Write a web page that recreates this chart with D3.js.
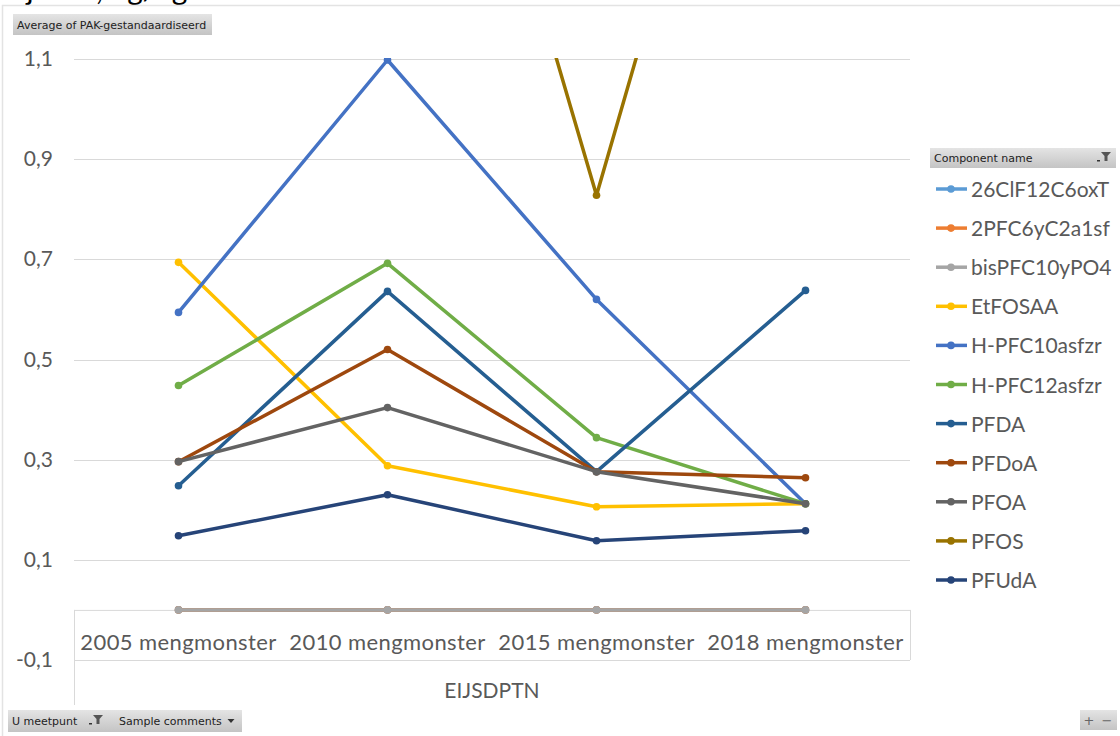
<!DOCTYPE html>
<html>
<head>
<meta charset="utf-8">
<script src="https://cdn.jsdelivr.net/npm/d3@7"></script>
<style>
  body { margin: 0; background: #fff; }
  svg { display: block; }
</style>
</head>
<body>
<div id="chart"></div>
<script>
// categories (x axis)
var categories = ["2005 mengmonster", "2010 mengmonster", "2015 mengmonster", "2018 mengmonster"];
var groupLabel = "EIJSDPTN";

// series, in legend order
var seriesNames = ["26ClF12C6oxT", "2PFC6yC2a1sf", "bisPFC10yPO4", "EtFOSAA", "H-PFC10asfzr",
  "H-PFC12asfzr", "PFDA", "PFDoA", "PFOA", "PFOS", "PFUdA"];
var seriesColors = ["#5B9BD5", "#ED7D31", "#A5A5A5", "#FFC000", "#4472C4",
  "#70AD47", "#255E91", "#9E480E", "#636363", "#997300", "#264478"];

var v26ClF12C6oxT = [0, 0, 0, 0];
var v2PFC6yC2a1sf = [0, 0, 0, 0];
var vbisPFC10yPO4 = [0, 0, 0, 0];
var vEtFOSAA      = [0.694, 0.288, 0.206, 0.212];
var vHPFC10asfzr  = [0.594, 1.098, 0.620, 0.212];
var vHPFC12asfzr  = [0.448, 0.692, 0.344, 0.212];
var vPFDA         = [0.248, 0.636, 0.276, 0.638];
var vPFDoA        = [0.296, 0.520, 0.276, 0.264];
var vPFOA         = [0.296, 0.404, 0.276, 0.212];
var vPFOS         = [1.95, 2.25, 0.828, 2.27];   // 2005/2010/2018 lie above the visible range
var vPFUdA        = [0.148, 0.230, 0.138, 0.158];

var seriesValues = [v26ClF12C6oxT, v2PFC6yC2a1sf, vbisPFC10yPO4, vEtFOSAA, vHPFC10asfzr,
  vHPFC12asfzr, vPFDA, vPFDoA, vPFOA, vPFOS, vPFUdA];

var yTicks = [1.1, 0.9, 0.7, 0.5, 0.3, 0.1, -0.1];

var width = 1120, height = 736;
var font = "Lato, 'Open Sans', sans-serif";
var uiFont = "'DejaVu Sans', Tahoma, sans-serif";

var svg = d3.select("#chart").append("svg")
  .attr("width", width)
  .attr("height", height);

var defs = svg.append("defs");
var grad = defs.append("linearGradient")
  .attr("id", "btn").attr("x1", 0).attr("y1", 0).attr("x2", 0).attr("y2", 1);
grad.append("stop").attr("offset", "0%").attr("stop-color", "#e4e4e4");
grad.append("stop").attr("offset", "100%").attr("stop-color", "#c4c4c4");

// title, cut off at the top edge like in the screenshot
svg.append("text")
  .attr("x", 2).attr("y", 0)
  .style("font-family", font).style("font-size", "30px").attr("fill", "#000")
  .text("Eijsden, ug/kg");

// outer frame
svg.append("path")
  .attr("d", "M2.5,736 V5.5 H1120")
  .attr("fill", "none").attr("stroke", "#e3e3e3").attr("stroke-width", 1.5);

var x = d3.scalePoint()
  .domain(categories)
  .range([74, 910])
  .padding(0.5);

var y = d3.scaleLinear()
  .domain([-0.1, 1.1])
  .range([660, 59]);

// gridlines
svg.append("g").selectAll("line")
  .data(yTicks)
  .join("line")
  .attr("x1", 74).attr("x2", 910)
  .attr("y1", d => Math.round(y(d)) + 0.5).attr("y2", d => Math.round(y(d)) + 0.5)
  .attr("stroke", "#d9d9d9").attr("stroke-width", 1);

// y labels
svg.append("g").selectAll("text")
  .data(yTicks)
  .join("text")
  .attr("x", 53)
  .attr("y", d => y(d) + 7)
  .attr("text-anchor", "end")
  .style("font-family", font).style("font-size", "21px")
  .attr("fill", "#595959")
  .text(d => d3.format(".1f")(d).replace(".", ",").replace("−", "-"));

// category box
var box = svg.append("g").attr("fill", "none").attr("stroke", "#d9d9d9");
box.append("line").attr("x1", 74).attr("x2", 910).attr("y1", y(0) + 0.5).attr("y2", y(0) + 0.5);
box.append("line").attr("x1", 74.5).attr("x2", 74.5).attr("y1", y(0)).attr("y2", 705);
box.append("line").attr("x1", 910.5).attr("x2", 910.5).attr("y1", y(0)).attr("y2", y(-0.1));

svg.append("g").selectAll("text")
  .data(categories)
  .join("text")
  .attr("x", d => x(d))
  .attr("y", 650)
  .attr("text-anchor", "middle")
  .style("font-family", font).style("font-size", "22px")
  .style("letter-spacing", "0.4px")
  .attr("fill", "#595959")
  .text(d => d);

svg.append("text")
  .attr("x", 492).attr("y", 698)
  .attr("text-anchor", "middle")
  .style("font-family", font).style("font-size", "21px")
  .attr("fill", "#595959")
  .text(groupLabel);

// lines
defs.append("clipPath").attr("id", "plot")
  .append("rect").attr("x", 60).attr("y", 58).attr("width", 870).attr("height", 610);

var line = d3.line()
  .x((d, i) => x(categories[i]))
  .y(d => y(d));

var plot = svg.append("g").attr("clip-path", "url(#plot)");
seriesValues.forEach(function(vals, s) {
  var g = plot.append("g");
  g.append("path")
    .datum(vals)
    .attr("d", line)
    .attr("fill", "none")
    .attr("stroke", seriesColors[s])
    .attr("stroke-width", 3.5)
    .attr("stroke-linejoin", "round");
  g.selectAll("circle")
    .data(vals)
    .join("circle")
    .attr("cx", (d, i) => x(categories[i]))
    .attr("cy", d => y(d))
    .attr("r", 3.8)
    .attr("fill", seriesColors[s]);
});

// legend
var legend = svg.append("g");
var itemY = d3.scalePoint().domain(seriesNames).range([189, 580]);
var items = legend.selectAll("g")
  .data(seriesNames)
  .join("g")
  .attr("transform", d => "translate(0," + itemY(d) + ")");
items.append("line")
  .attr("x1", 936).attr("x2", 967)
  .attr("stroke", (d, i) => seriesColors[i]).attr("stroke-width", 3.5);
items.append("circle")
  .attr("cx", 951).attr("r", 3.8)
  .attr("fill", (d, i) => seriesColors[i]);
items.append("text")
  .attr("x", 971).attr("y", 8)
  .style("font-family", font).style("font-size", "21px")
  .attr("fill", "#595959")
  .text(d => d);

// field buttons
function button(x0, y0, w, h, label) {
  svg.append("rect")
    .attr("x", x0).attr("y", y0).attr("width", w).attr("height", h)
    .attr("fill", "url(#btn)");
  svg.append("text")
    .attr("x", x0 + 4).attr("y", y0 + h / 2 + 4)
    .style("font-family", uiFont).style("font-size", "11px")
    .attr("fill", "#222")
    .text(label);
}
function filterIcon(cx, cy) {
  svg.append("path")
    .attr("d", "M" + (cx - 5) + "," + (cy - 5) + " h10 l-3.5,4 v5 h-3 v-5 z")
    .attr("fill", "#555");
  svg.append("rect").attr("x", cx - 9).attr("y", cy + 3).attr("width", 3).attr("height", 1.5).attr("fill", "#333");
}
function dropIcon(cx, cy) {
  svg.append("path")
    .attr("d", "M" + (cx - 3.5) + "," + (cy - 2) + " h7 l-3.5,4 z")
    .attr("fill", "#333");
}

button(13, 14, 199, 21, "Average of PAK-gestandaardiseerd");
button(930, 148, 186, 20, "Component  name");
filterIcon(1106, 157);

button(8, 710, 234, 22, "U meetpunt");
filterIcon(98, 720);
svg.append("text")
  .attr("x", 119).attr("y", 725)
  .style("font-family", uiFont).style("font-size", "11px")
  .attr("fill", "#222")
  .text("Sample comments");
dropIcon(231, 721);

// zoom buttons
svg.append("rect").attr("x", 1080).attr("y", 710).attr("width", 37).attr("height", 20).attr("fill", "url(#btn)");
svg.append("text").attr("x", 1089).attr("y", 725).attr("text-anchor", "middle")
  .style("font-family", uiFont).style("font-size", "13px").attr("fill", "#666").text("+");
svg.append("text").attr("x", 1107).attr("y", 725).attr("text-anchor", "middle")
  .style("font-family", uiFont).style("font-size", "13px").attr("fill", "#666").text("−");
</script>
</body>
</html>
